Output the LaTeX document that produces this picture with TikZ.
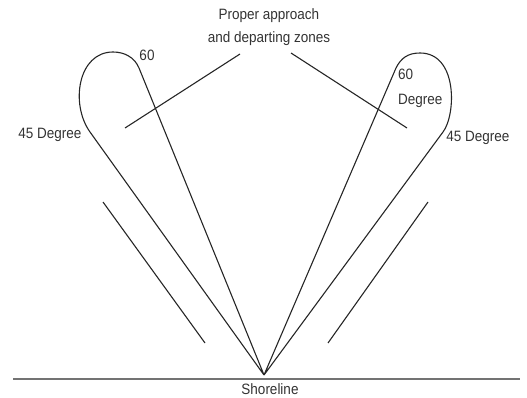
\documentclass[tikz,border=0pt]{standalone}
\usepackage{fontspec}
\setmainfont{Liberation Sans}[FakeStretch=0.9]
\begin{document}
\begin{tikzpicture}[x=1pt,y=-1pt,
  lbl/.style={font=\fontsize{15}{23}\selectfont, text=black!80, inner sep=0pt, align=center},
  ln/.style={draw=black!85, line width=1.1pt},
  shore/.style={draw=black!55, line width=2pt}]
\useasboundingbox (0,0) rectangle (527,398);
% key points
\coordinate (apex) at (264,375);
\coordinate (sL) at (13,379);
\coordinate (sR) at (520,379);
\coordinate (lA) at (90,132);
\coordinate (lB) at (139,68);
\coordinate (rA) at (396,68);
\coordinate (rB) at (443,132);
% shoreline
\draw[shore] (sL) -- (sR);
\node[lbl] (shoretxt) at (270,389) {Shoreline};
% left loop
\draw[ln, line join=round] (apex) -- (lA) .. controls (70,104) and (78,52) .. (113,52)
   .. controls (124,52) and (134.5,57) .. (lB) -- (apex);
% right loop
\draw[ln, line join=round] (apex) -- (rA) .. controls (401,58) and (408,53) .. (420,53)
   .. controls (458,53) and (456,115) .. (rB) -- (apex);
% outer parallel lines
\coordinate (olT) at (103,202);
\coordinate (olB) at (205,343);
\coordinate (orT) at (428,202);
\coordinate (orB) at (328,343);
\draw[ln] (olT) -- (olB);
\draw[ln] (orT) -- (orB);
% title and pointers
\node[lbl] (title) at (269,27) {Proper approach\\and departing zones};
\coordinate (pl1) at (240,54);
\coordinate (pl2) at (125,128);
\coordinate (pr1) at (291,53);
\coordinate (pr2) at (407,128);
\draw[ln] (pl1) -- (pl2);
\draw[ln] (pr1) -- (pr2);
% labels
\node[lbl] (l60) at (147,55) {60};
\node[lbl] (l45) at (50,135) {45 Degree};
\node[lbl, font=\fontsize{15}{25}\selectfont, align=left, anchor=west] (r60) at (398,88) {60\\Degree};
\node[lbl] (r45) at (478,138) {45 Degree};
\end{tikzpicture}
\end{document}
